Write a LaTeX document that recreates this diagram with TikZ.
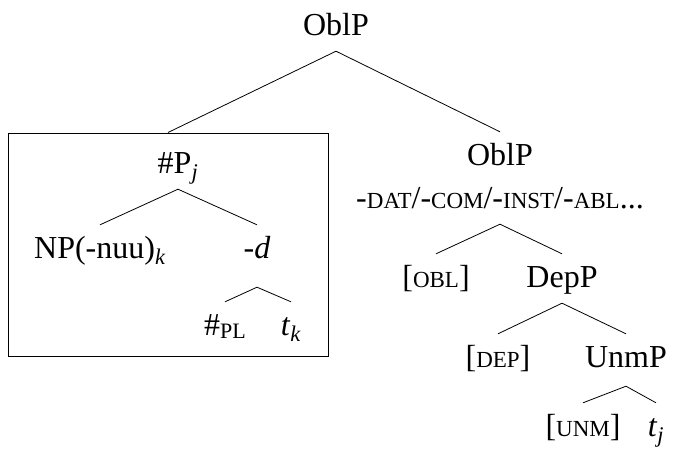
\documentclass[tikz,border=0pt]{standalone}
\usepackage{fontspec}
\setmainfont{Liberation Serif}

\newcommand\smcap[1]{{\fontsize{23}{23}\selectfont #1}}
\tikzset{
  lbl/.style={font=\fontsize{32}{38}\selectfont, anchor=base,
    inner xsep=0pt, inner ysep=9pt, text height=24pt, text depth=7pt},
  branch/.style={line width=0.8pt}
}

\begin{document}
\begin{tikzpicture}[x=1pt, y=-1pt]
    %% Background
    \useasboundingbox (0,0) rectangle (675,448);

    %% Root
    \node[lbl] (top) at (336,35) {OblP};

    %% Boxed #P
    \node[draw, line width=1pt, inner sep=0pt, minimum width=320pt,
      minimum height=223pt] (box) at (168,244.5) {};
    \node[lbl] (numP) at (178,173) {\#P\textsubscript{\textit{j}}};
    \node[lbl] (np) at (100,258) {NP(-nuu)\textsubscript{\textit{k}}};
    \node[lbl, text depth=20pt] (d) at (257,258) {\textit{-d}};
    \node[lbl] (pl) at (225,335) {\#\raisebox{-3pt}{\fontsize{22}{22}\selectfont PL}};
    \node[lbl] (tk) at (291,335) {\textit{t}\textsubscript{\textit{k}}};

    %% Oblique spine
    \node[lbl] (obl) at (500,165) {OblP};
    \node[lbl] (cases) at (500,208)
      {-\smcap{DAT}/-\smcap{COM}/-\smcap{INST}/-\smcap{ABL}...};
    \node[lbl] (oblf) at (436,287) {[\smcap{OBL}]};
    \node[lbl] (dep) at (562,287) {DepP};
    \node[lbl] (depf) at (498,367) {[\smcap{DEP}]};
    \node[lbl, text depth=10pt] (unm) at (626,367) {UnmP};
    \node[lbl] (unmf) at (583,436) {[\smcap{UNM}]};
    \node[lbl] (tj) at (656,436) {\textit{t}\textsubscript{\textit{j}}};

    %% Branches
    \draw[branch] (top.south) -- (box.north);
    \draw[branch] (top.south) -- (obl.north);

    \draw[branch] (numP.south) -- (np.north);
    \draw[branch] (numP.south) -- (d.north);
    \draw[branch] (d.south) -- (pl.north);
    \draw[branch] (d.south) -- (tk.north);

    \draw[branch] (cases.south) -- (oblf.north);
    \draw[branch] (cases.south) -- (dep.north);
    \draw[branch] (dep.south) -- (depf.north);
    \draw[branch] (dep.south) -- (unm.north);
    \draw[branch] (unm.south) -- (unmf.north);
    \draw[branch] (unm.south) -- (tj.north);

\end{tikzpicture}
\end{document}
